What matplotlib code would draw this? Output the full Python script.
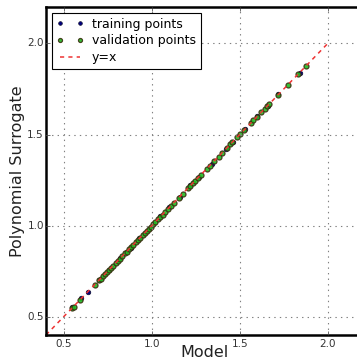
import matplotlib
matplotlib.use("Agg")
import matplotlib.pyplot as plt

plt.style.use("classic")

# Training points (Model value, Surrogate value)
train_model = [0.55, 0.60, 0.636, 0.70, 0.76, 0.82, 0.88, 0.93, 0.99, 1.05, 1.10,
               1.16, 1.22, 1.27, 1.34, 1.42, 1.46, 1.53, 1.60, 1.66, 1.72, 1.84]
train_surr = [0.551, 0.601, 0.637, 0.701, 0.759, 0.821, 0.879, 0.931, 0.989, 1.051, 1.101,
              1.159, 1.221, 1.269, 1.341, 1.419, 1.461, 1.529, 1.601, 1.659, 1.721, 1.839]

# Validation points
val_model = [0.545, 0.557, 0.591, 0.676, 0.700, 0.710, 0.722, 0.735, 0.744, 0.756, 0.768,
             0.778, 0.795, 0.807, 0.818, 0.832, 0.847, 0.858, 0.870, 0.884, 0.895, 0.909,
             0.921, 0.934, 0.948, 0.960, 0.972, 0.985, 0.994, 1.008, 1.020, 1.035, 1.048,
             1.062, 1.075, 1.090, 1.108, 1.125, 1.153, 1.176, 1.205, 1.216, 1.233, 1.244,
             1.261, 1.278, 1.312, 1.330, 1.355, 1.380, 1.400, 1.426, 1.445, 1.458, 1.487,
             1.502, 1.524, 1.562, 1.578, 1.597, 1.623, 1.642, 1.653, 1.669, 1.718, 1.774,
             1.831, 1.877]
val_surr = [0.546, 0.556, 0.592, 0.675, 0.701, 0.709, 0.723, 0.734, 0.745, 0.755, 0.769,
            0.777, 0.796, 0.806, 0.819, 0.831, 0.848, 0.857, 0.871, 0.883, 0.896, 0.908,
            0.922, 0.933, 0.949, 0.959, 0.973, 0.984, 0.995, 1.007, 1.021, 1.034, 1.049,
            1.061, 1.076, 1.089, 1.109, 1.124, 1.154, 1.175, 1.206, 1.215, 1.234, 1.243,
            1.262, 1.277, 1.313, 1.329, 1.356, 1.379, 1.401, 1.425, 1.446, 1.457, 1.488,
            1.501, 1.525, 1.561, 1.579, 1.596, 1.624, 1.641, 1.654, 1.668, 1.719, 1.773,
            1.832, 1.876]

line_x = [0.4, 2.0]
xticks = [0.5, 1.0, 1.5, 2.0]
yticks = [0.5, 1.0, 1.5, 2.0]

fig = plt.figure(figsize=(3.57, 3.61), dpi=100, facecolor="white")
ax = fig.add_axes([46 / 357, 26 / 361, 317 / 357, 328 / 361])
ax.set_facecolor("white")

ax.plot(train_model, train_surr, "o", color="navy", markersize=3.3,
        markeredgecolor="#101030", markeredgewidth=0.5, label="training points")
ax.plot(val_model, val_surr, "o", color="#22bb22", markersize=3.6,
        markeredgecolor="#3a3010", markeredgewidth=0.9, alpha=0.9,
        label="validation points")
ax.plot(line_x, line_x, "--", color="#ee3333", linewidth=1.1, dashes=(3, 3),
        label="y=x")

ax.set_xlim(0.4, 2.2)
ax.set_ylim(0.4, 2.2)
ax.set_xticks(xticks)
ax.set_yticks(yticks)
ax.tick_params(labelsize=7.5, colors="#333333", direction="in", length=3)
ax.tick_params(axis="y", pad=1.5)
ax.tick_params(axis="x", pad=3)
ax.grid(True, color="gray", linestyle=":", linewidth=0.8)
for s in ax.spines.values():
    s.set_linewidth(1.8)

ax.set_xlabel("Model", fontsize=11.5, color="#222222", labelpad=-3)
ax.set_ylabel("Polynomial Surrogate", fontsize=11.5, color="#222222", labelpad=2)

leg = ax.legend(loc="upper left", fontsize=9, numpoints=2, borderaxespad=0.45,
                handlelength=2.2, labelspacing=0.3, handletextpad=0.6,
                fancybox=False, framealpha=1, markerscale=0.8)
leg.get_frame().set_linewidth(0.8)

fig.savefig("out.png", dpi=100, facecolor="white")
